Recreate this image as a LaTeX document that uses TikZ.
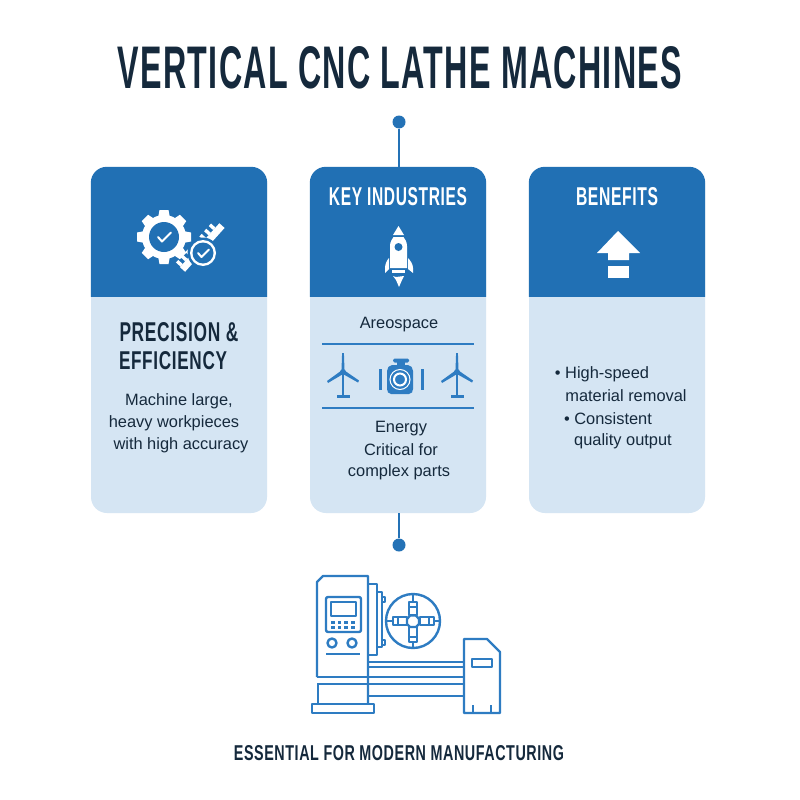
\documentclass[tikz,border=0pt]{standalone}
\usepackage{fontspec}
\setmainfont{Liberation Sans}
\newfontfamily\headfont[LetterSpace=4]{Liberation Sans}
\newfontfamily\bodyfont[FakeStretch=1.0]{Liberation Sans}
\definecolor{cardblue}{HTML}{2170B4}
\definecolor{cardpale}{HTML}{D5E5F3}
\definecolor{inkdark}{HTML}{15293C}
\definecolor{linkblue}{HTML}{2472B6}
\definecolor{iconblue}{HTML}{2E7CC2}
\newcommand{\fitcaps}[3]{\resizebox{#1pt}{#2pt}{\headfont\bfseries #3}}
\tikzset{
  x=1pt,y=-1pt,
  cardbody/.style={fill=cardpale,rounded corners=16pt,minimum width=176pt,minimum height=346pt,inner sep=0pt},
  cardhead/.style={fill=cardblue},
  capsdark/.style={text=inkdark,inner sep=0pt},
  capswhite/.style={text=white,inner sep=0pt},
  bodytext/.style={text=inkdark,inner sep=0pt,font=\bodyfont\fontsize{16.4}{20}\selectfont},
  junction/.style={circle,fill=linkblue,minimum size=13pt,inner sep=0pt},
  link/.style={draw=linkblue,line width=2pt},
  sep/.style={draw=iconblue,line width=1.2pt},
  mach/.style={draw=iconblue,line width=2.4pt,line join=round},
}
\begin{document}
\begin{tikzpicture}
\useasboundingbox (0,0) rectangle (800,800);
\fill[white] (0,0) rectangle (800,800);

\node[capsdark] (title) at (400,68) {\fitcaps{564}{42}{VERTICAL CNC LATHE MACHINES}};

% cards
\node[cardbody] (card1) at (179,340) {};
\node[cardbody] (card2) at (398,340) {};
\node[cardbody] (card3) at (617,340) {};
\foreach \c in {card1,card2,card3}{
  \path[cardhead] ([yshift=-130pt]\c.north west) -- ([yshift=-16pt]\c.north west)
     to[out=90,in=180] ([xshift=16pt]\c.north west) -- ([xshift=-16pt]\c.north east)
     to[out=0,in=90] ([yshift=-16pt]\c.north east) -- ([yshift=-130pt]\c.north east) -- cycle;
}

% connectors
\node[junction] (dottop) at (399,122) {};
\node[junction] (dotbot) at (399,545) {};
\draw[link] (dottop) -- (dottop |- card2.north);
\draw[link] (dotbot) -- (dotbot |- card2.south);

% card 1 icon: gear
\begin{scope}[shift={(164,237)}]
  \fill[white] (0,0) circle (22);
  \foreach \a in {0,45,...,315}{
    \fill[white,rotate=\a] (-4.5,-27) -- (4.5,-27) -- (6,-19) -- (-6,-19) -- cycle;
  }
  \fill[cardblue] (0,0) circle (15);
  \draw[white,line width=2pt,line cap=round,line join=round] (-6,0) -- (-2,4.5) -- (7,-4.5);
\end{scope}
% card 1 icon: ruler
\begin{scope}[shift={(200,245.5)},rotate=48]
  \fill[white] (-29.5,-0.5) rectangle (29.5,6.5);
  \foreach \t in {-27,-20,...,28}{
    \fill[white] (\t-1.7,-6.5) rectangle (\t+1.7,-0.5);
  }
\end{scope}
\fill[cardblue] (203,253) circle (15.5);
\fill[white] (203,253) circle (13);
\fill[cardblue] (203,253) circle (10.5);
\draw[white,line width=2pt,line cap=round,line join=round] (198,253) -- (201.5,257) -- (209,249.5);

\node[capsdark] (prec) at (179,332) {\fitcaps{119}{19}{PRECISION \&}};
\node[capsdark] (effi) at (173,361) {\fitcaps{108}{18}{EFFICIENCY}};
\node[bodytext] (c1a) at (179,401) {Machine large,};
\node[bodytext] (c1b) at (174,423) {heavy workpieces};
\node[bodytext] (c1c) at (181,445) {with high accuracy};

% card 2
\node[capswhite] (keyind) at (398,197) {\fitcaps{138}{18}{KEY INDUSTRIES}};
% rocket
\fill[white] (398.5,226) -- (393,235) -- (404,235) -- cycle;
\fill[white] (390,268) -- (390,246) .. controls (390,242) and (392,239) .. (393.5,237) -- (403.5,237) .. controls (405,239) and (407,242) .. (407,246) -- (407,268) -- cycle;
\fill[cardblue] (398.5,247) circle (4);
\fill[white] (389,258) -- (389,269) -- (385,273) -- (385,268) .. controls (385,264) and (387,260) .. (389,258) -- cycle;
\fill[white] (408,258) -- (408,269) -- (413,273) -- (413,268) .. controls (413,264) and (410,260) .. (408,258) -- cycle;
\fill[white] (392,270) rectangle (405,273);
\fill[white] (393,276) -- (396,277) -- (404,276) -- (402,280) -- (399,287) -- (396,280) -- cycle;

\node[bodytext] (aero) at (399,325) {Areospace};
\coordinate (s1a) at (322,344); \coordinate (s1b) at (474,344);
\coordinate (s2a) at (322,408); \coordinate (s2b) at (474,408);
\draw[sep] (s1a) -- (s1b);
\draw[sep] (s2a) -- (s2b);
% turbines
\foreach \hx in {343,457}{
\begin{scope}[shift={(\hx,372)}]
  \fill[iconblue] (-1.4,0) rectangle (1.4,23);
  \fill[iconblue] (-6.5,23) rectangle (6.5,26);
  \fill[iconblue] (-1.5,-2) -- (-0.9,-19) -- (0.9,-19) -- (1.5,-2) -- cycle;
  \fill[iconblue] (-1.5,-1.5) -- (-16,9) -- (-15,11) -- (1,1.5) -- cycle;
  \fill[iconblue] (1.5,-1.5) -- (16,8.5) -- (15,10.5) -- (-1,1.5) -- cycle;
  \fill[iconblue] (0,0) circle (3);
\end{scope}
}
% engine
\fill[iconblue,rounded corners=1.5pt] (393,358.5) rectangle (409,362.5);
\fill[iconblue] (397,362) rectangle (405,366);
\fill[iconblue,rounded corners=2pt] (390,365) -- (410,365) -- (413,369) -- (413,391) -- (411,394) -- (389,394) -- (387,391) -- (387,369) -- cycle;
\fill[iconblue] (379,369) rectangle (382,390);
\fill[iconblue] (421,369) rectangle (424,390);
\draw[white,line width=1pt] (400,379.5) circle (10);
\draw[white,line width=2pt] (400,379.5) circle (6);

\node[bodytext] (ener) at (401,429) {Energy};
\node[bodytext] (crit) at (401,450) {Critical for};
\node[bodytext] (cplx) at (399,472) {complex parts};

% card 3
\node[capswhite] (bene) at (617,197) {\fitcaps{82}{18}{BENEFITS}};
\fill[white] (618,231) -- (640,253) -- (629,253) -- (629,260) -- (608,260) -- (608,253) -- (597,253) -- cycle;
\fill[white] (608,266) rectangle (629,278);

\node[bodytext] (b1) at (602,374) {• High-speed};
\node[bodytext] (b2) at (626,396) {material removal};
\node[bodytext] (b3) at (608,419) {• Consistent};
\node[bodytext] (b4) at (623,441) {quality output};

% machine
\draw[mach] (317,677) -- (317,582) -- (323,576) -- (368,576) -- (368,704);
\draw[mach] (318,684) -- (318,704);
\draw[mach] (312,704) rectangle (374,713);
\draw[mach] (317,677) -- (464,677);
\draw[mach] (317,684) -- (464,684);
\draw[mach] (368,662) -- (464,662);
\draw[mach] (368,667) -- (464,667);
\draw[mach] (368,696) -- (464,696);
\draw[mach] (464,713) -- (464,639) -- (487,639) -- (500,652) -- (500,713) -- cycle;
\draw[mach] (472,659) rectangle (492,667);
\draw[mach] (473,705) -- (473,713);
\draw[mach] (491,705) -- (491,713);
\draw[mach] (368,584) -- (377,584) -- (377,655) -- (368,655);
\draw[mach] (377,592) -- (382,592) -- (382,647) -- (377,647);
\draw[mach] (382,597) rectangle (385,602);
\draw[mach] (382,640) rectangle (385,645);
\draw[mach] (413,621) circle (27);
\draw[mach] (413,594) -- (413,602);
\draw[mach] (413,642) -- (413,648);
\draw[mach] (386,621) -- (393,621);
\draw[mach] (434,621) -- (440,621);
\draw[mach] (409,602) rectangle (417,615);
\draw[mach] (409,627) rectangle (417,642);
\draw[mach] (393,617) rectangle (407,625);
\draw[mach] (420,617) rectangle (434,625);
\draw[mach] (409,607) -- (417,607);
\draw[mach] (409,637) -- (417,637);
\draw[mach] (398,617) -- (398,625);
\draw[mach] (429,617) -- (429,625);
\draw[mach,fill=white] (410,615.5) -- (416,615.5) -- (419,619) -- (419,624) -- (416,627) -- (410,627) -- (407,624) -- (407,619) -- cycle;
\draw[mach,rounded corners=2pt] (326,597) rectangle (361,632);
\draw[mach] (331,602) rectangle (356,616);
\foreach \bx in {333,339.5,346,353}{
  \foreach \by in {622,627}{
    \fill[iconblue] (\bx-1.7,\by-1.5) rectangle (\bx+1.7,\by+1.5);
  }
}
\draw[mach] (332,643) circle (4.5);
\draw[mach] (352,643) circle (4.5);
\draw[mach] (326,654) -- (360,654);

\node[capsdark] (foot) at (399,753) {\fitcaps{330}{15}{ESSENTIAL FOR MODERN MANUFACTURING}};
\end{tikzpicture}
\end{document}
